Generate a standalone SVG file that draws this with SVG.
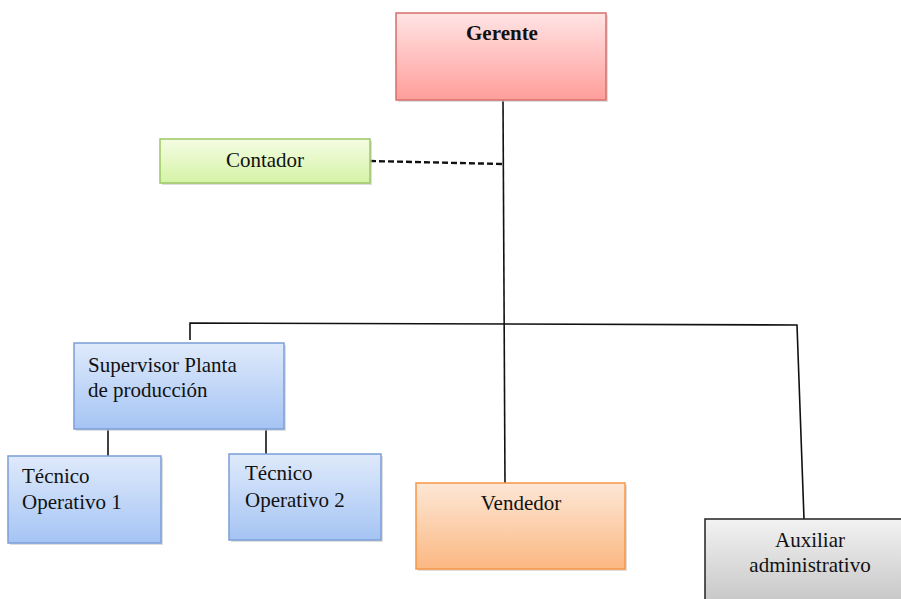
<svg xmlns="http://www.w3.org/2000/svg" width="901" height="599" viewBox="0 0 901 599">
<defs>
<linearGradient id="gRed" x1="0" y1="0" x2="0" y2="1"><stop offset="0" stop-color="#ffe4e4"/><stop offset="1" stop-color="#ff9e9b"/></linearGradient>
<linearGradient id="gGreen" x1="0" y1="0" x2="0" y2="1"><stop offset="0" stop-color="#f5fde3"/><stop offset="1" stop-color="#d5f3a6"/></linearGradient>
<linearGradient id="gBlue" x1="0" y1="0" x2="0" y2="1"><stop offset="0" stop-color="#dfeafb"/><stop offset="1" stop-color="#a5c4f4"/></linearGradient>
<linearGradient id="gOrange" x1="0" y1="0" x2="0" y2="1"><stop offset="0" stop-color="#fde7d6"/><stop offset="1" stop-color="#fbb882"/></linearGradient>
<linearGradient id="gGray" x1="0" y1="0" x2="0" y2="1"><stop offset="0" stop-color="#f2f2f2"/><stop offset="1" stop-color="#c4c4c4"/></linearGradient>
</defs>
<style>
.shadow{fill:#c8c8c8;opacity:0.6}
.t{font-family:"Liberation Serif","Times New Roman",serif;font-size:21px;fill:#111}
.c{text-anchor:middle}
.b{font-weight:bold}
.ln{stroke:#111;stroke-width:1.6;fill:none}
.dash{stroke:#111;stroke-width:2.4;stroke-dasharray:6 3;fill:none}
</style>
<rect width="901" height="599" fill="#ffffff"/>
<g id="connectors">
<path class="ln" d="M503 100 L505 485"/>
<path class="dash" d="M370 161 L503 164"/>
<path class="ln" d="M190 340 L190 323 L797 325 L804 519"/>
<path class="ln" d="M108 429 L108 456"/>
<path class="ln" d="M266 429 L266 455"/>
</g>
<g id="gerente">
<rect class="shadow" x="398" y="15" width="210" height="87"/>
<rect x="396" y="13" width="210" height="87" fill="url(#gRed)" stroke="#d66f6c" stroke-width="1.5"/>
<text class="t c b" x="502" y="40">Gerente</text>
</g>
<g id="contador">
<rect class="shadow" x="162" y="141" width="210" height="44"/>
<rect x="160" y="139" width="210" height="44" fill="url(#gGreen)" stroke="#9cc763" stroke-width="1.5"/>
<text class="t c" x="265" y="167">Contador</text>
</g>
<g id="supervisor">
<rect class="shadow" x="76" y="345" width="210" height="86"/>
<rect x="74" y="343" width="210" height="86" fill="url(#gBlue)" stroke="#7b9fd8" stroke-width="1.5"/>
<text class="t" x="88" y="372">Supervisor Planta</text>
<text class="t" x="88" y="397">de producción</text>
</g>
<g id="tecnico1">
<rect class="shadow" x="10" y="458" width="153" height="87"/>
<rect x="8" y="456" width="153" height="87" fill="url(#gBlue)" stroke="#7b9fd8" stroke-width="1.5"/>
<text class="t" x="22" y="483">Técnico</text>
<text class="t" x="22" y="509">Operativo 1</text>
</g>
<g id="tecnico2">
<rect class="shadow" x="231" y="456" width="152" height="86"/>
<rect x="229" y="454" width="152" height="86" fill="url(#gBlue)" stroke="#7b9fd8" stroke-width="1.5"/>
<text class="t" x="245" y="480">Técnico</text>
<text class="t" x="245" y="507">Operativo 2</text>
</g>
<g id="vendedor">
<rect class="shadow" x="418" y="485" width="209" height="86"/>
<rect x="416" y="483" width="209" height="86" fill="url(#gOrange)" stroke="#f79646" stroke-width="1.5"/>
<text class="t c" x="521" y="510">Vendedor</text>
</g>
<g id="auxiliar">
<rect x="705" y="519" width="210" height="90" fill="url(#gGray)" stroke="#222" stroke-width="1.5"/>
<text class="t c" x="810" y="547">Auxiliar</text>
<text class="t c" x="810" y="572">administrativo</text>
</g>
</svg>
